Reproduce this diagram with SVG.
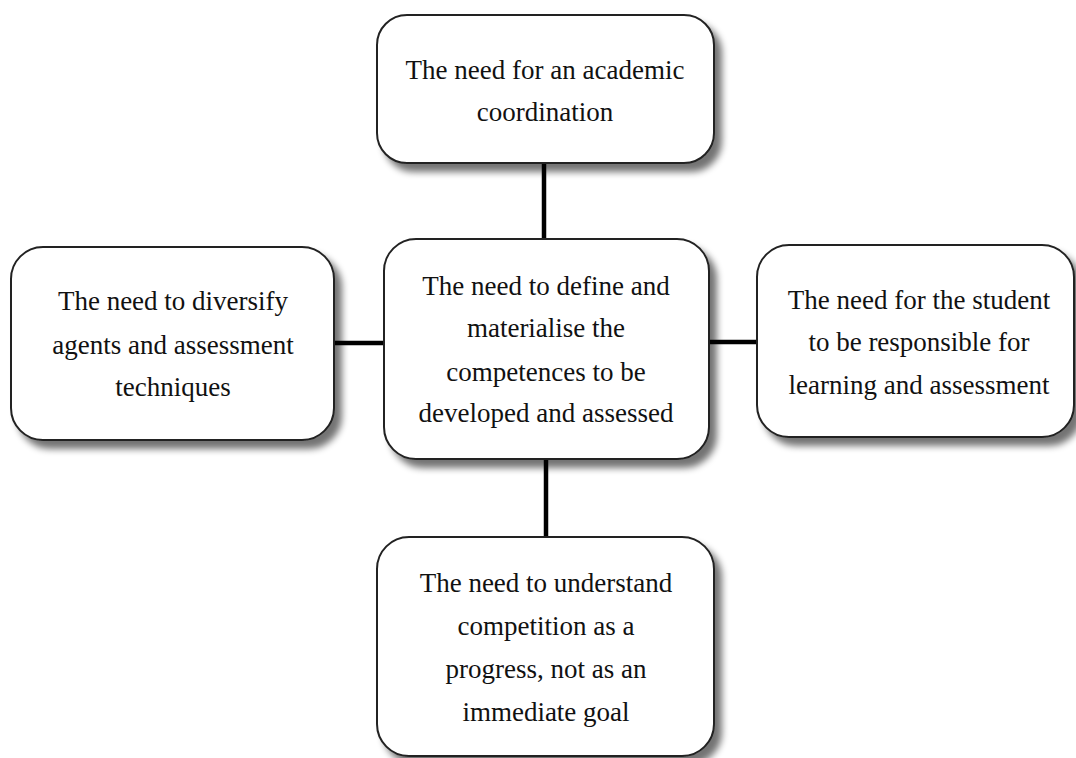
<svg xmlns="http://www.w3.org/2000/svg" width="1076" height="758" viewBox="0 0 1076 758">
<defs>
<filter id="sh" x="-10%" y="-10%" width="130%" height="130%">
<feGaussianBlur in="SourceAlpha" stdDeviation="3.5"/>
<feOffset dx="7" dy="8" result="b"/>
<feComponentTransfer><feFuncA type="linear" slope="0.55"/></feComponentTransfer>
<feMerge><feMergeNode/><feMergeNode in="SourceGraphic"/></feMerge>
</filter>
</defs>
<style>
.box{fill:#fff;stroke:#222;stroke-width:2;filter:url(#sh)}
.t{font-family:"Liberation Serif","DejaVu Serif",serif;font-size:27px;fill:#111;text-anchor:middle}
.c{stroke:#000;stroke-width:4.5;fill:none}
</style>
<rect width="1076" height="758" fill="#fff"/>
<g id="connectors">
<line class="c" x1="544" y1="163" x2="544" y2="239"/>
<line class="c" x1="334" y1="343" x2="384" y2="343"/>
<line class="c" x1="709" y1="342" x2="757" y2="342"/>
<line class="c" x1="546" y1="459" x2="546" y2="537"/>
</g>
<g id="top">
<rect class="box" x="377" y="15" width="337" height="148" rx="30"/>
<text class="t" x="545" y="79">The need for an academic</text>
<text class="t" x="545" y="121">coordination</text>
</g>
<g id="left">
<rect class="box" x="11" y="247" width="323" height="193" rx="32"/>
<text class="t" x="173" y="310">The need to diversify</text>
<text class="t" x="173" y="354">agents and assessment</text>
<text class="t" x="173" y="396">techniques</text>
</g>
<g id="center">
<rect class="box" x="384" y="239" width="325" height="220" rx="32"/>
<text class="t" x="546" y="295">The need to define and</text>
<text class="t" x="546" y="337">materialise the</text>
<text class="t" x="546" y="381">competences to be</text>
<text class="t" x="546" y="422">developed and assessed</text>
</g>
<g id="right">
<rect class="box" x="757" y="245" width="317" height="192" rx="32"/>
<text class="t" x="919" y="309">The need for the student</text>
<text class="t" x="919" y="351">to be responsible for</text>
<text class="t" x="919" y="394">learning and assessment</text>
</g>
<g id="bottom">
<rect class="box" x="377" y="537" width="337" height="219" rx="32"/>
<text class="t" x="546" y="592">The need to understand</text>
<text class="t" x="546" y="635">competition as a</text>
<text class="t" x="546" y="678">progress, not as an</text>
<text class="t" x="546" y="721">immediate goal</text>
</g>
</svg>
